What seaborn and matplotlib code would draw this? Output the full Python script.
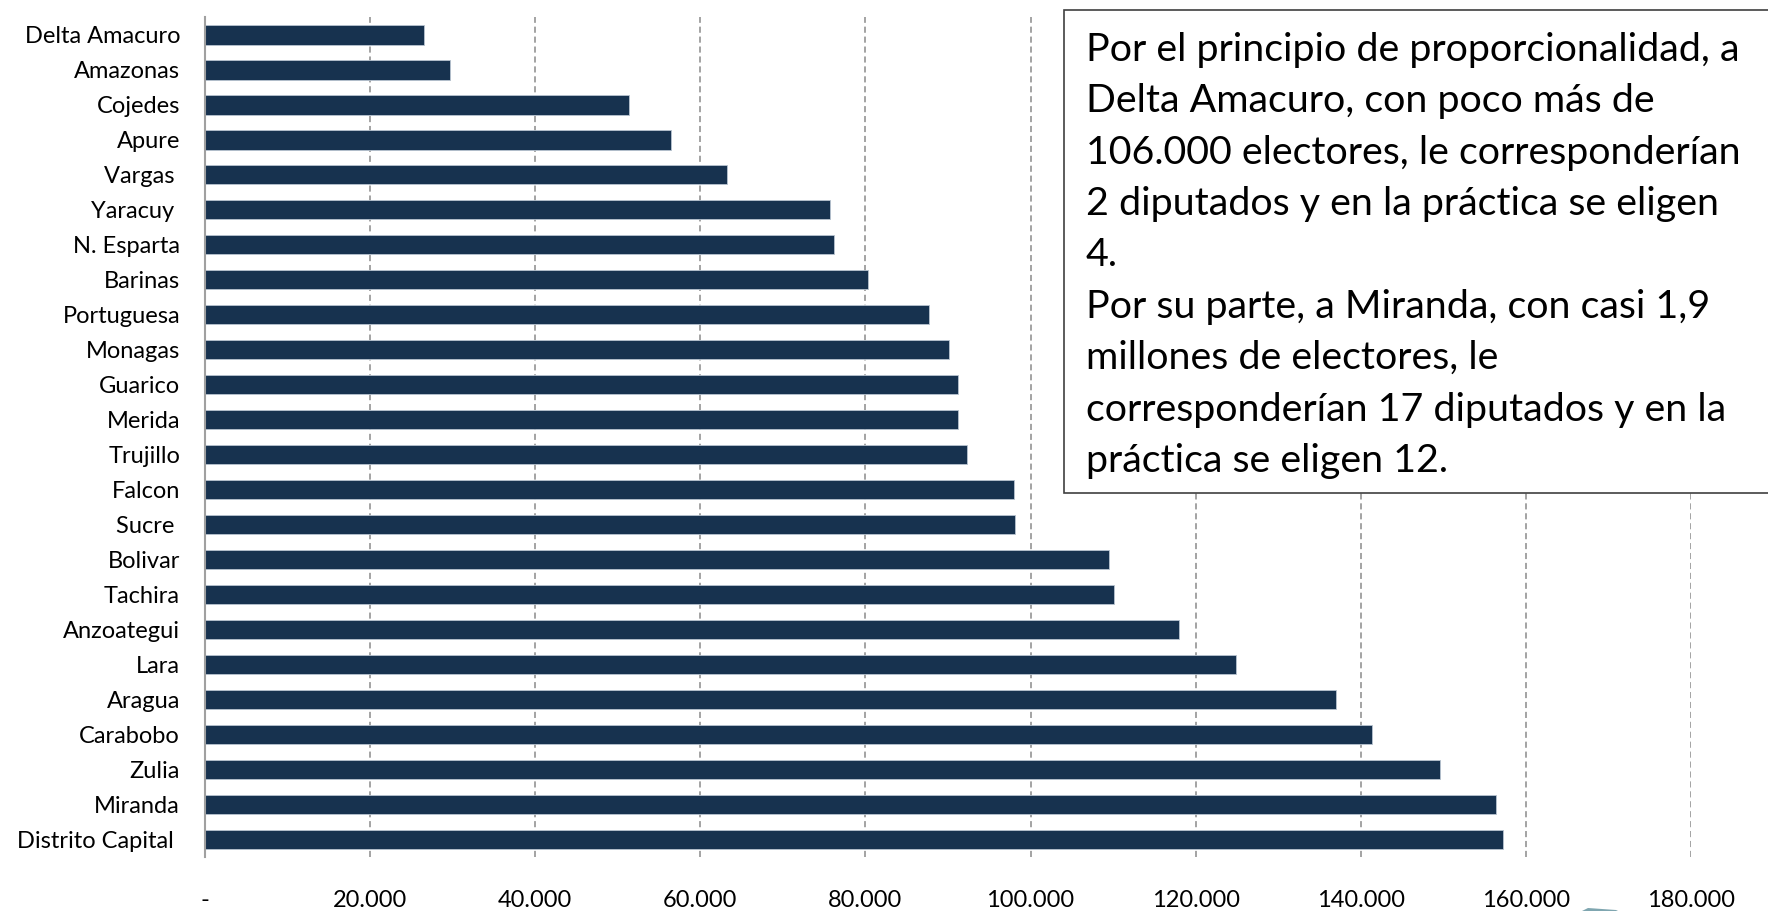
import pandas as pd
import seaborn as sns
import matplotlib.pyplot as plt
from matplotlib.patches import Rectangle, Polygon
from matplotlib.ticker import FuncFormatter

estados = ['Delta Amacuro', 'Amazonas', 'Cojedes', 'Apure', 'Vargas ', 'Yaracuy ',
           'N. Esparta', 'Barinas', 'Portuguesa', 'Monagas', 'Guarico', 'Merida',
           'Trujillo', 'Falcon', 'Sucre ', 'Bolivar', 'Tachira', 'Anzoategui',
           'Lara', 'Aragua', 'Carabobo', 'Zulia', 'Miranda', 'Distrito Capital ']
electores = [26500, 29650, 51400, 56400, 63250, 75700, 76200, 80300, 87700, 90150,
             91250, 91200, 92350, 97950, 98100, 109550, 110100, 118000, 124850,
             137000, 141400, 149600, 156400, 157200]
ticks_x = [0, 20000, 40000, 60000, 80000, 100000, 120000, 140000, 160000, 180000]

nota = ("Por el principio de proporcionalidad, a\n"
        "Delta Amacuro, con poco más de\n"
        "106.000 electores, le corresponderían\n"
        "2 diputados y en la práctica se eligen\n"
        "4.\n"
        "Por su parte, a Miranda, con casi 1,9\n"
        "millones de electores, le\n"
        "corresponderían 17 diputados y en la\n"
        "práctica se eligen 12.")

df = pd.DataFrame({'estado': estados, 'electores': electores})

sns.set_style('white')
plt.rcParams['font.family'] = ['Lato', 'DejaVu Sans']

fig = plt.figure(figsize=(17.68, 9.11), dpi=100)
ax = fig.add_axes([0.116, 0.0593, 0.9564 - 0.116, 0.9813 - 0.0593])

sns.barplot(data=df, x='electores', y='estado', orient='h', color='#17324f',
            saturation=1, width=0.57, edgecolor='#b8c4d0', linewidth=0.6, ax=ax)

ax.set_xlim(0, 180000)
ax.set_xticks(ticks_x)
ax.xaxis.set_major_formatter(FuncFormatter(
    lambda v, p: '-' if v == 0 else f'{int(v):,}'.replace(',', '.')))
ax.grid(axis='x', color='#8a8a8a', linestyle=(0, (4, 2.5)), linewidth=1.1)
ax.set_axisbelow(True)
ax.set_xlabel('')
ax.set_ylabel('')
ax.tick_params(axis='x', length=0, pad=24, labelsize=17, labelcolor='black')
ax.tick_params(axis='y', length=0, pad=18, labelsize=17, labelcolor='black')
for s in ['top', 'right', 'bottom']:
    ax.spines[s].set_visible(False)
ax.spines['left'].set_color('#a0a0a0')
ax.spines['left'].set_linewidth(1.5)

# recuadro con la nota
fig.add_artist(Rectangle((1064 / 1768, 1 - 493 / 911), 0.5, 483 / 911,
                         transform=fig.transFigure, facecolor='white',
                         edgecolor='#404040', linewidth=1.2, zorder=5))
fig.text(1086 / 1768, 1 - 32 / 911, nota, fontsize=28.4, va='top', ha='left',
         linespacing=1.53, color='black', zorder=6)

# resto de una flecha cortada en la esquina
fig.add_artist(Polygon([(1582 / 1768, 0.0), (1588 / 1768, 3 / 911),
                        (1616 / 1768, 1 / 911), (1618 / 1768, 0.0)],
                       closed=True, transform=fig.transFigure,
                       facecolor='#7fa6b0', edgecolor='none', zorder=5))

plt.savefig('out.png', dpi=100)
